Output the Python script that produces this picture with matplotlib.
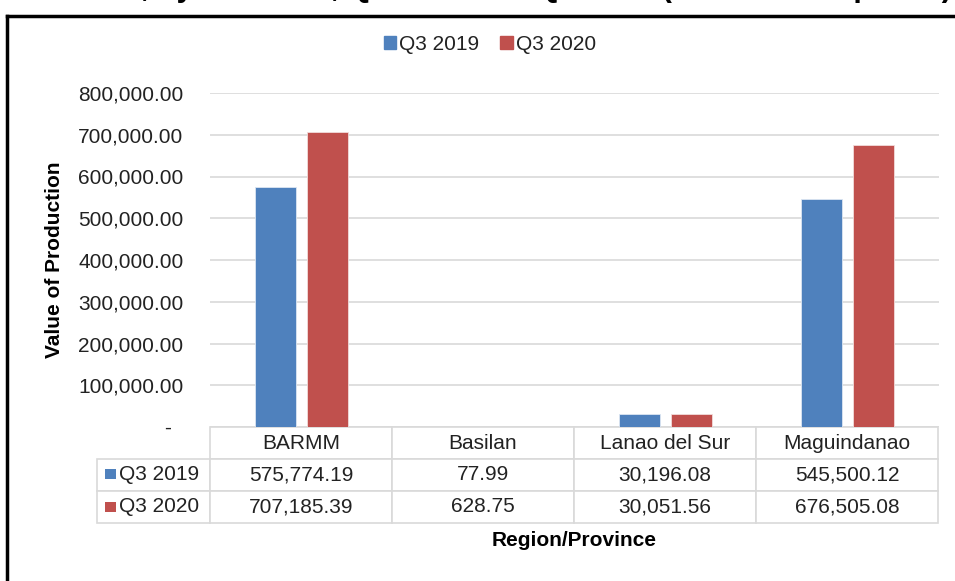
import numpy as np
import matplotlib
matplotlib.use("Agg")
import matplotlib.pyplot as plt
from matplotlib.table import Table
from matplotlib.patches import Rectangle
from matplotlib.lines import Line2D
from matplotlib.ticker import FuncFormatter

plt.rcParams['font.family'] = ['Liberation Sans', 'DejaVu Sans']

# data
regions = ['BARMM', 'Basilan', 'Lanao del Sur', 'Maguindanao']
series = ['Q3 2019', 'Q3 2020']
q3_2019 = [575774.19, 77.99, 30196.08, 545500.12]
q3_2020 = [707185.39, 628.75, 30051.56, 676505.08]
colors = ['#4F81BD', '#C0504D']

W, H = 955, 581
fig = plt.figure(figsize=(W / 100, H / 100), dpi=100)
# axes box in pixels: x 210-939, y 93-427
ax = fig.add_axes([210 / W, 1 - 427 / H, 729 / W, 334 / H])

x = np.arange(len(regions))
bw = 0.225
off = 0.143
ax.bar(x - off, q3_2019, bw, color=colors[0], edgecolor='#dce6f2', linewidth=0.6, zorder=3)
ax.bar(x + off, q3_2020, bw, color=colors[1], edgecolor='#f2dcdb', linewidth=0.6, zorder=3)

ax.set_xlim(-0.5, len(regions) - 0.5)
ax.set_ylim(0, 800000)
ax.set_yticks(np.arange(0, 800001, 100000))
ax.yaxis.set_major_formatter(FuncFormatter(lambda v, p: '-  ' if v == 0 else f'{v:,.2f}'))
ax.tick_params(axis='y', length=0, pad=19, labelsize=15, labelcolor='#222222')
ax.set_xticks([])
for s in ax.spines.values():
    s.set_visible(False)
ax.grid(axis='y', color='#d9d9d9', linewidth=1.2, zorder=0)

# data table under the axes
vals = [q3_2019, q3_2020]
tb = Table(ax, bbox=[-113 / 729, -96 / 334, 841 / 729, 96 / 334])
edge = '#d9d9d9'
cw0 = 113 / 841
cw = 182 / 841
rh = 1 / 3
for j, r in enumerate(regions):
    tb.add_cell(0, j + 1, cw, rh, text=r, loc='center', edgecolor=edge)
for i, name in enumerate(series):
    tb.add_cell(i + 1, 0, cw0, rh, text=name, loc='right', edgecolor=edge)
    for j, v in enumerate(vals[i]):
        tb.add_cell(i + 1, j + 1, cw, rh, text=f'{v:,.2f}', loc='center', edgecolor=edge)
tb.auto_set_font_size(False)
tb.set_fontsize(15)
for c in tb.get_celld().values():
    c.get_text().set_color('#222222')
    c.set_linewidth(1.2)
ax.add_table(tb)

# legend keys in the table row labels
for i, col in enumerate(colors):
    yc = 473.5 + i * 33
    fig.add_artist(Rectangle((105 / W, 1 - (yc + 5) / H), 11 / W, 10 / H,
                             transform=fig.transFigure, facecolor=col, edgecolor='none'))

# legend on top
handles = [Rectangle((0, 0), 1, 1, color=c) for c in colors]
fig.legend(handles, series, loc='center', bbox_to_anchor=(490 / W, 1 - 44 / H), ncol=2,
           frameon=False, fontsize=15, handlelength=0.6, handleheight=0.6,
           handletextpad=0.15, columnspacing=1.0, labelcolor='#222222')

fig.text(55 / W, 1 - 260 / H, 'Value of Production', rotation=90, ha='center', va='center',
         fontsize=15, fontweight='bold')
fig.text(574 / W, 1 - 541 / H, 'Region/Province', ha='center', va='center',
         fontsize=15, fontweight='bold')

# title cut off at the top edge, only its bottom shows
fig.text(952 / W, 1 + 4 / H, 'Value of Production, by Province, Q3 2019 and Q3 2020 (in thousand pesos)',
         ha='right', va='baseline', fontsize=22, fontweight='bold')
fig.add_artist(Line2D([6.5 / W, 1], [1 - 15.5 / H, 1 - 15.5 / H], color='black', linewidth=2.5,
                      transform=fig.transFigure))
fig.add_artist(Line2D([6.5 / W, 6.5 / W], [0, 1 - 15.5 / H], color='black', linewidth=2.5,
                      transform=fig.transFigure))

fig.savefig('out.png', dpi=100)
